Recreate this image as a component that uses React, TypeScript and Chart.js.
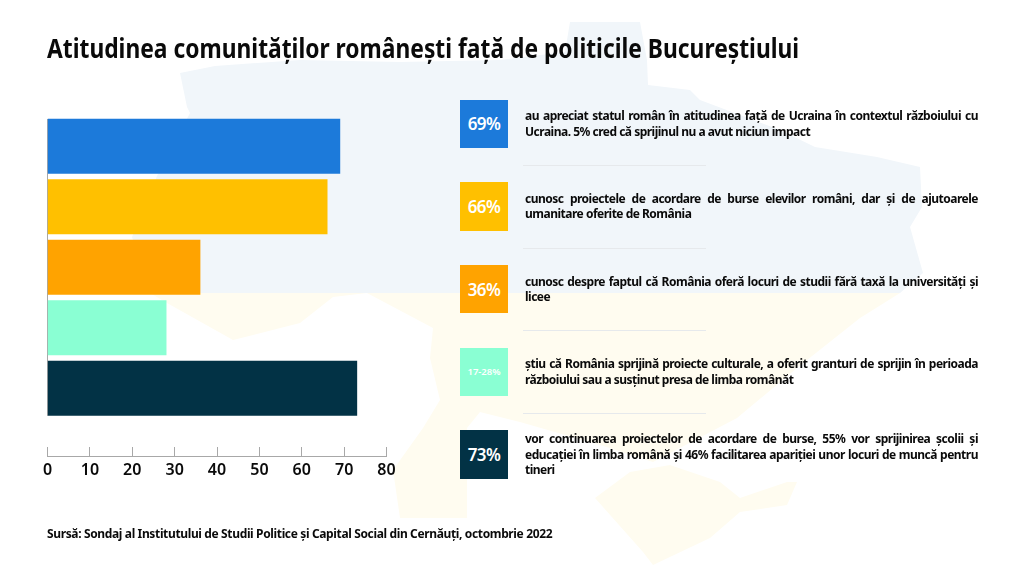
import { useEffect, useRef } from 'react'
import { Chart, registerables } from 'chart.js'

Chart.register(...registerables)

const categories = ['Apreciere', 'Burse', 'Locuri de studii', 'Proiecte culturale', 'Continuare']
const values = [69, 66, 36, 28, 73]
const colors = ['#1c7ada', '#ffc000', '#ffa300', '#8affd3', '#023245']
const badges = ['69%', '66%', '36%', '17-28%', '73%']
const texts = [
  'au apreciat statul român în atitudinea față de Ucraina în contextul războiului cu Ucraina. 5% cred că sprijinul nu a avut niciun impact',
  'cunosc proiectele de acordare de burse elevilor români, dar și de ajutoarele umanitare oferite de România',
  'cunosc despre faptul că România oferă locuri de studii fără taxă la universități și licee',
  'știu că România sprijină proiecte culturale, a oferit granturi de sprijin în perioada războiului sau a susținut presa de limba românăt',
  'vor continuarea proiectelor de acordare de burse, 55% vor sprijinirea școlii și educației în limba română și 46% facilitarea apariției unor locuri de muncă pentru tineri',
]
const title = 'Atitudinea comunităților românești față de politicile Bucureștiului'
const source = 'Sursă: Sondaj al Institutului de Studii Politice și Capital Social din Cernăuți, octombrie 2022'

const FONT = '"Noto Sans", sans-serif'

// pale map of Ukraine behind everything
const mapBlue =
  '180,73 215,66 300,60 400,62 500,60 565,52 570,22 640,22 647,60 648,85 690,90 700,100 780,130 815,147 877,157 920,167 922,207 910,227 923,273 900,293 150,293 132,237 157,176 190,113 187,107'
const mapYellow =
  '150,293 900,293 860,318 797,368 737,418 653,462 600,445 520,422 480,412 467,428 467,518 400,518 393,470 423,428 440,400 430,358 433,328 367,293 333,297 300,323 233,340 167,303'
const mapCrimea =
  '595,498 630,472 670,465 720,482 740,498 787,482 797,482 787,505 740,512 710,538 653,565 643,552'

export default function App() {
  const canvasRef = useRef<HTMLCanvasElement>(null)

  useEffect(() => {
    if (!canvasRef.current) return
    document.body.style.margin = '0'

    const chart = new Chart(canvasRef.current, {
      type: 'bar',
      data: {
        labels: categories,
        datasets: [
          {
            data: values.map((v, i) => ({ x: v, y: i })),
            backgroundColor: colors,
            borderWidth: 0,
            barThickness: 54.5,
          },
          {
            // thin baseline behind the bars, stops short of the x axis
            type: 'line',
            data: [
              { x: 0, y: -0.45 },
              { x: 0, y: values.length - 0.55 },
            ],
            borderColor: '#a8a8a8',
            borderWidth: 1,
            pointRadius: 0,
            clip: false,
            order: 1,
          },
        ] as any,
      },
      options: {
        indexAxis: 'y',
        responsive: false,
        animation: false,
        layout: { padding: { left: 47.5, right: 637.5, top: 116, bottom: 57 } },
        plugins: { legend: { display: false }, tooltip: { enabled: false } },
        scales: {
          x: {
            type: 'linear',
            min: 0,
            max: 80,
            afterFit: (scale: any) => {
              scale.height = 60
            },
            border: { color: '#a8a8a8', width: 1 },
            grid: {
              drawOnChartArea: false,
              tickLength: -9,
              tickColor: '#a8a8a8',
            },
            ticks: {
              stepSize: 10,
              padding: 14,
              maxRotation: 0,
              color: '#0a0a0a',
              font: { family: FONT, size: 16, weight: 600 },
            },
          },
          y: {
            type: 'linear',
            reverse: true,
            offset: false,
            min: -0.5,
            max: 5.12,
            display: false,
          },
        },
      },
    })

    return () => chart.destroy()
  }, [])

  return (
    <div style={{ position: 'relative', width: 1024, height: 573, overflow: 'hidden', background: '#fff', fontFamily: FONT, color: '#0a0a0a' }}>
      <svg width={1024} height={573} style={{ position: 'absolute', left: 0, top: 0 }}>
        <polygon points={mapBlue} fill="#f1f6fa" />
        <polygon points={mapYellow} fill="#fffcf0" />
        <polygon points={mapCrimea} fill="#fffcf0" />
      </svg>
      <canvas ref={canvasRef} width={1024} height={573} style={{ position: 'absolute', left: 0, top: 0 }} />
      <div style={{ position: 'absolute', left: 47, top: 30, fontSize: 26, fontWeight: 700, whiteSpace: 'nowrap', lineHeight: '36px', transformOrigin: 'left top', transform: 'scaleX(0.877)' }}>
        {title}
      </div>
      {texts.map((text, i) => {
        const top = 99.5 + i * 82.7
        return (
          <div key={i}>
            <div
              style={{
                position: 'absolute',
                left: 460,
                top,
                width: 48,
                height: 48.5,
                background: colors[i],
                color: '#fff',
                display: 'flex',
                alignItems: 'center',
                justifyContent: 'center',
                fontWeight: 600,
                fontSize: badges[i].length > 3 ? 9.5 : 17,
                letterSpacing: badges[i].length > 3 ? 0 : -0.6,
              }}
            >
              {badges[i]}
            </div>
            <div
              style={{
                position: 'absolute',
                left: 525,
                top: top - 10,
                width: 453,
                height: 68.5,
                display: 'flex',
                alignItems: 'center',
                fontSize: 12,
                fontWeight: 700,
                letterSpacing: -0.5,
                lineHeight: '15.6px',
                textAlign: 'justify',
              }}
            >
              <div style={{ width: '100%' }}>{text}</div>
            </div>
            {i < texts.length - 1 && (
              <div style={{ position: 'absolute', left: 523, top: top + 65.5, width: 183, height: 1, background: '#e6e9ec' }} />
            )}
          </div>
        )
      })}
      <div style={{ position: 'absolute', left: 47, top: 525, fontSize: 12, fontWeight: 700, letterSpacing: -0.36, whiteSpace: 'nowrap', lineHeight: '17px' }}>
        {source}
      </div>
    </div>
  )
}
